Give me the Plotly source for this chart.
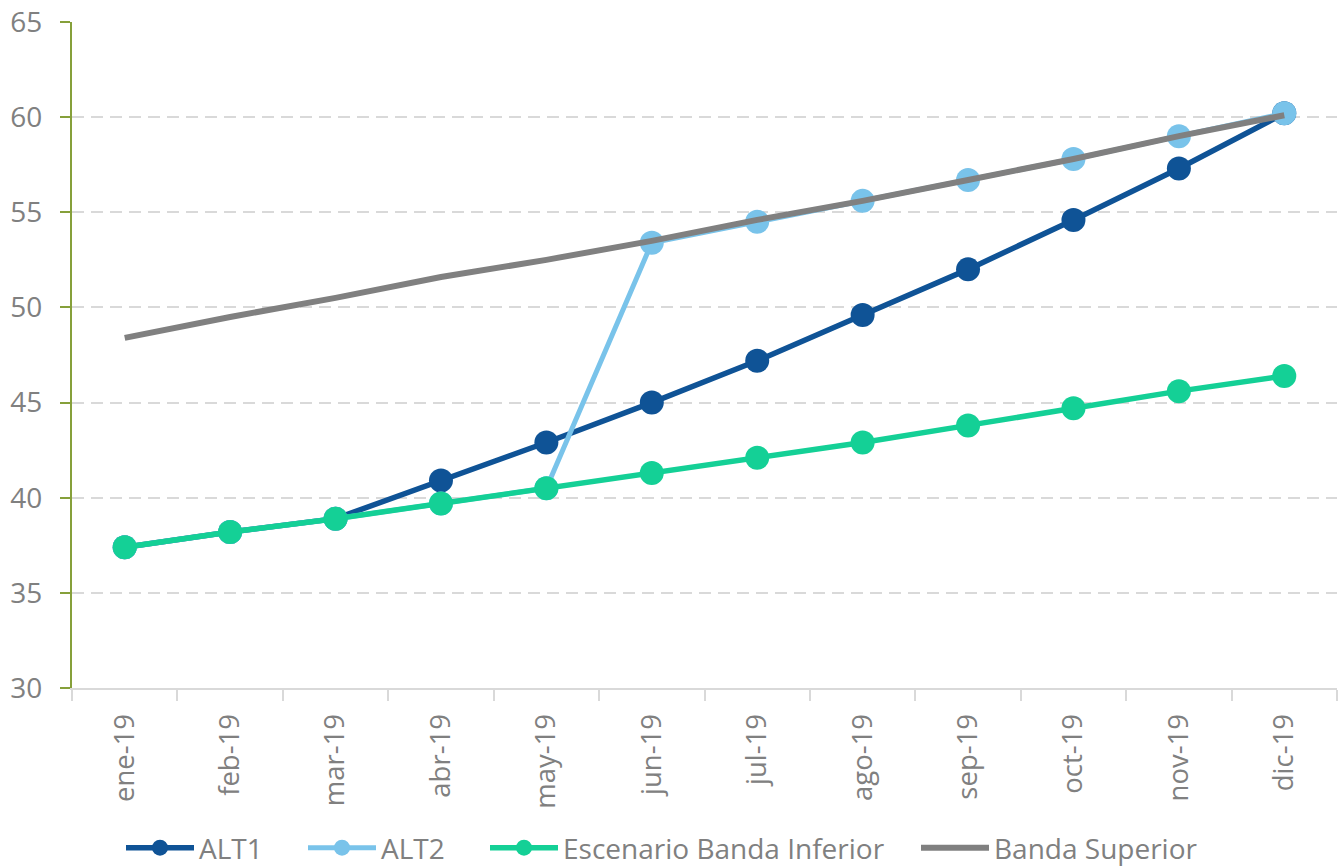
import plotly.graph_objects as go

months = ["ene-19", "feb-19", "mar-19", "abr-19", "may-19", "jun-19",
          "jul-19", "ago-19", "sep-19", "oct-19", "nov-19", "dic-19"]
alt1 = [37.4, 38.2, 38.9, 40.9, 42.9, 45.0, 47.2, 49.6, 52.0, 54.6, 57.3, 60.2]
alt2 = [37.4, 38.2, 38.9, 39.7, 40.5, 53.4, 54.5, 55.6, 56.7, 57.8, 59.0, 60.2]
inferior = [37.4, 38.2, 38.9, 39.7, 40.5, 41.3, 42.1, 42.9, 43.8, 44.7, 45.6, 46.4]
superior = [48.4, 49.5, 50.5, 51.6, 52.5, 53.5, 54.6, 55.6, 56.7, 57.8, 59.0, 60.1]

W, H = 1343, 868
fig = go.Figure()
fig.add_trace(go.Scatter(x=months, y=alt1, name="ALT1", mode="lines+markers",
                         line=dict(color="#0F5396", width=5.5),
                         marker=dict(size=24, color="#0F5396"), legend="legend"))
fig.add_trace(go.Scatter(x=months, y=alt2, name="ALT2", mode="lines+markers",
                         line=dict(color="#79C3EA", width=5),
                         marker=dict(size=24, color="#79C3EA"), legend="legend2"))
fig.add_trace(go.Scatter(x=months, y=inferior, name="Escenario Banda Inferior", mode="lines+markers",
                         line=dict(color="#14D096", width=5.5),
                         marker=dict(size=24, color="#14D096"), legend="legend3"))
fig.add_trace(go.Scatter(x=months, y=superior, name="Banda Superior", mode="lines",
                         line=dict(color="#808080", width=6), legend="legend4"))

font_family = "Open Sans, Noto Sans, sans-serif"

def leg(px):
    return dict(orientation="h", xref="container", yref="container",
                x=px / W, xanchor="left", y=(H - 848) / H, yanchor="middle",
                font=dict(size=28, color="#808080"), itemwidth=68,
                bgcolor="rgba(0,0,0,0)", borderwidth=0)

fig.update_layout(
    width=W, height=H,
    margin=dict(l=72, r=6, t=22, b=180, autoexpand=False),
    paper_bgcolor="white", plot_bgcolor="white",
    font=dict(family=font_family, color="#808080", size=26),
    showlegend=True,
    legend=leg(121), legend2=leg(303), legend3=leg(485), legend4=leg(916),
    hovermode=False,
)
fig.update_xaxes(
    type="category", showline=True, linecolor="#D9D9D9", linewidth=2,
    ticks="outside", tickson="boundaries", ticklen=11, tickcolor="#D9D9D9", tickwidth=2,
    tickangle=-90, tickfont=dict(size=27.5, color="#808080"), showgrid=False,
    range=[-0.5, 11.5], automargin=False, ticklabelstandoff=13,
)
fig.update_yaxes(
    range=[30, 65], dtick=5, tick0=30, showline=True, linecolor="#86A03A", linewidth=2,
    ticks="outside", ticklen=10, tickcolor="#86A03A", tickwidth=2,
    tickfont=dict(size=28, color="#808080"), automargin=False, ticklabelstandoff=12,
    showgrid=True, gridcolor="#D9D9D9", gridwidth=2, griddash="12px,7px",
    zeroline=False,
)
fig.write_html("out.html", config={"displayModeBar": False, "staticPlot": True},
               post_script="document.body.style.margin='0';document.body.style.overflow='hidden';")
